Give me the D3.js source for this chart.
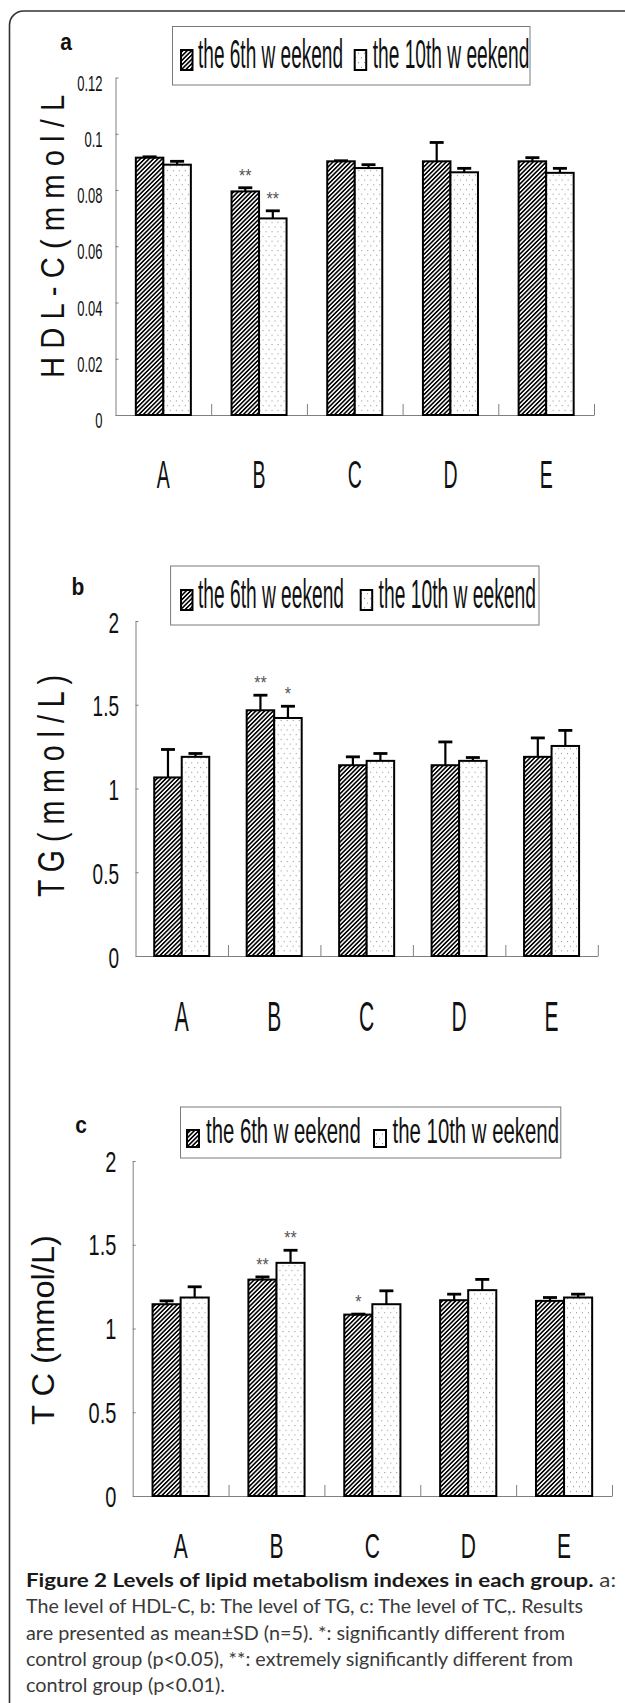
<!DOCTYPE html>
<html>
<head>
<meta charset="utf-8">
<script src="https://cdn.jsdelivr.net/npm/d3@7"></script>
<style>
  html, body { margin: 0; padding: 0; background: #fff; }
  svg { display: block; }
</style>
</head>
<body>
<script>
// ---- data ----
const groups = ["A", "B", "C", "D", "E"];
const seriesLabels = ["the 6th w eekend", "the 10th w eekend"];

// a: HDL-C (mmol/L)
const hdl6 = [0.0915, 0.0795, 0.0902, 0.0902, 0.0902];
const hdl6Sd = [0.0003, 0.0013, 0.0002, 0.0067, 0.0013];
const hdl10 = [0.0890, 0.0699, 0.0878, 0.0863, 0.0861];
const hdl10Sd = [0.0012, 0.0027, 0.0012, 0.0014, 0.0016];
const hdl6Sig = ["", "**", "", "", ""];
const hdl10Sig = ["", "**", "", "", ""];
const hdlTicks = [0, 0.02, 0.04, 0.06, 0.08, 0.1, 0.12];
const hdlTickLabels = ["0", "0.02", "0.04", "0.06", "0.08", "0.1", "0.12"];

// b: TG (mmol/L)
const tg6 = [1.066, 1.467, 1.139, 1.139, 1.189];
const tg6Sd = [0.167, 0.090, 0.050, 0.139, 0.113];
const tg10 = [1.189, 1.421, 1.165, 1.165, 1.254];
const tg10Sd = [0.020, 0.070, 0.044, 0.020, 0.093];
const tg6Sig = ["", "**", "", "", ""];
const tg10Sig = ["", "*", "", "", ""];

// c: TC (mmol/L)
const tc6 = [1.145, 1.292, 1.083, 1.169, 1.165];
const tc6Sd = [0.020, 0.016, 0.003, 0.036, 0.020];
const tc10 = [1.185, 1.392, 1.145, 1.229, 1.185];
const tc10Sd = [0.064, 0.075, 0.080, 0.064, 0.020];
const tc6Sig = ["", "**", "*", "", ""];
const tc10Sig = ["", "**", "", "", ""];

const mmolTicks = [0, 0.5, 1, 1.5, 2];
const mmolTickLabels = ["0", "0.5", "1", "1.5", "2"];

const captionBold = "Figure 2 Levels of lipid metabolism indexes in each group.";
const captionLines = [
  " a:",
  "The level of HDL-C, b: The level of TG, c: The level of TC,. Results",
  "are presented as mean\u00b1SD (n=5). *: significantly different from",
  "control group (p<0.05), **: extremely significantly different from",
  "control group (p<0.01).",
];

// ---- layout (positions / styles only) ----
const chartFont = "'Liberation Sans', Arial, sans-serif";
const W = 625, H = 1703;

const panels = [
  {
    tag: "a", title: "H D L - C ( m m o l / L )",
    v6: hdl6, sd6: hdl6Sd, v10: hdl10, sd10: hdl10Sd, sig6: hdl6Sig, sig10: hdl10Sig,
    ticks: hdlTicks, tickLabels: hdlTickLabels, yMax: 0.12,
    x0: 115.5, x1: 594, y0: 415, y1: 77.5, pad: 0.425,
    tagPos: [66, 50],
    legend: { box: [172.5, 26.5, 357.5, 58.5], sw: [181, 354.7], swY: 50, swW: 11.5, swH: 20,
              tx: [198, 372.7], tw: [145, 156.6], ty: 68, fs: 19, k: 2.15 },
    tick: { fs: 13, k: 1.7, pad: 13, dy: 12.5 },
    xlab: { fs: 19.5, k: 2.0, dy: 73 },
    ttl: { cx: 52, cy: 228, len: 300, fs: 33, clipTop: 92 },
  },
  {
    tag: "b", title: "T G ( m m o l / L )",
    v6: tg6, sd6: tg6Sd, v10: tg10, sd10: tg10Sd, sig6: tg6Sig, sig10: tg10Sig,
    ticks: mmolTicks, tickLabels: mmolTickLabels, yMax: 2,
    x0: 135.5, x1: 597.8, y0: 956, y1: 621, pad: 0.405,
    tagPos: [78, 595],
    legend: { box: [170.6, 566, 368.4, 59], sw: [181, 360.7], swY: 590, swW: 11.5, swH: 20,
              tx: [198, 378.6], tw: [146, 157.4], ty: 608, fs: 19, k: 2.15 },
    tick: { fs: 19, k: 1.6, pad: 16.5, dy: 11 },
    xlab: { fs: 21, k: 2.05, dy: 75 },
    ttl: { cx: 51, cy: 786, len: 222, fs: 36, clipTop: null },
  },
  {
    tag: "c", title: "T C (mmol/L)",
    v6: tc6, sd6: tc6Sd, v10: tc10, sd10: tc10Sd, sig6: tc6Sig, sig10: tc10Sig,
    ticks: mmolTicks, tickLabels: mmolTickLabels, yMax: 2,
    x0: 132.7, x1: 612, y0: 1496, y1: 1161, pad: 0.414,
    tagPos: [81, 1133],
    legend: { box: [180.5, 1107, 380.3, 51], sw: [187, 374], swY: 1130, swW: 12, swH: 17,
              tx: [206, 392.6], tw: [154.7, 166.4], ty: 1143, fs: 20.3, k: 1.69 },
    tick: { fs: 20, k: 1.45, pad: 16.3, dy: 10 },
    xlab: { fs: 21, k: 1.66, dy: 62 },
    ttl: { cx: 43, cy: 1330, len: 190, fs: 31, clipTop: null },
  },
];

const svg = d3.select("body").append("svg").attr("width", W).attr("height", H);
const defs = svg.append("defs");

// hatch "////"
const hatch = defs.append("pattern")
  .attr("id", "hatch").attr("patternUnits", "userSpaceOnUse")
  .attr("width", 3.1).attr("height", 3.1)
  .attr("patternTransform", "rotate(45)");
hatch.append("rect").attr("width", 3.1).attr("height", 3.1).attr("fill", "#fff");
hatch.append("line").attr("x1", 0.8).attr("y1", 0).attr("x2", 0.8).attr("y2", 3.1)
  .attr("stroke", "#000").attr("stroke-width", 1.6);

// sparse dots
const dots = defs.append("pattern")
  .attr("id", "dots").attr("patternUnits", "userSpaceOnUse")
  .attr("width", 6).attr("height", 9.4);
dots.append("rect").attr("width", 6).attr("height", 9.4).attr("fill", "#fff");
dots.append("rect").attr("x", 1).attr("y", 1).attr("width", 1).attr("height", 1).attr("fill", "#8a8a8a");
dots.append("rect").attr("x", 4).attr("y", 5.7).attr("width", 1).attr("height", 1).attr("fill", "#8a8a8a");

const fills = ["url(#hatch)", "url(#dots)"];

// outer frame
svg.append("rect")
  .attr("x", 9.5).attr("y", 11).attr("width", 700).attr("height", 1800).attr("rx", 14)
  .attr("fill", "none").attr("stroke", "#333").attr("stroke-width", 1.6);

panels.forEach((p, pi) => {
  const g = svg.append("g").attr("class", "panel-" + p.tag);

  const x = d3.scaleBand().domain(groups).range([p.x0, p.x1])
    .paddingInner(p.pad).paddingOuter(p.pad / 2);
  const xs = d3.scaleBand().domain([0, 1]).range([0, x.bandwidth()]);
  const y = d3.scaleLinear().domain([0, p.yMax]).range([p.y0, p.y1]);

  // y axis
  const yAxisG = g.append("g").attr("transform", `translate(${p.x0},0)`)
    .call(d3.axisLeft(y).tickValues(p.ticks).tickFormat((d, i) => p.tickLabels[i])
      .tickSizeInner(-3).tickSizeOuter(0))
    .attr("font-family", null).attr("font-size", null);
  yAxisG.select(".domain").attr("stroke", "#808080");
  yAxisG.selectAll(".tick line").attr("stroke", "#808080");
  yAxisG.selectAll(".tick text")
    .attr("x", null).attr("dy", null).attr("y", null)
    .attr("text-anchor", "end").attr("fill", "#111")
    .style("font-family", chartFont).style("font-size", p.tick.fs + "px")
    .attr("transform", `translate(${-p.tick.pad},${p.tick.dy}) scale(1,${p.tick.k})`);

  // x axis line with category boundary ticks
  const xb = d3.scaleLinear().domain([0, groups.length]).range([p.x0, p.x1]);
  const xLine = g.append("g").attr("transform", `translate(0,${p.y0})`)
    .call(d3.axisBottom(xb).tickValues(d3.range(1, groups.length + 1))
      .tickSizeInner(-11).tickSizeOuter(0).tickFormat(""));
  xLine.select(".domain").attr("stroke", "#808080");
  xLine.selectAll(".tick line").attr("stroke", "#808080");

  // category labels
  const xLab = g.append("g").attr("transform", `translate(0,${p.y0})`)
    .call(d3.axisBottom(x).tickSize(0))
    .attr("font-family", null).attr("font-size", null);
  xLab.select(".domain").remove();
  xLab.selectAll(".tick text")
    .attr("y", null).attr("dy", null)
    .attr("fill", "#111")
    .style("font-family", chartFont).style("font-size", p.xlab.fs + "px")
    .attr("transform", `translate(0,${p.xlab.dy}) scale(1,${p.xlab.k})`);

  // bars
  const rows = groups.map((grp, i) => ({
    grp,
    vals: [
      { s: 0, v: p.v6[i], sd: p.sd6[i], sig: p.sig6[i] },
      { s: 1, v: p.v10[i], sd: p.sd10[i], sig: p.sig10[i] },
    ],
  }));

  const grpG = g.append("g").selectAll("g").data(rows).join("g")
    .attr("transform", (d) => `translate(${x(d.grp)},0)`);

  grpG.selectAll("rect.bar").data((d) => d.vals).join("rect")
    .attr("class", "bar")
    .attr("x", (d) => xs(d.s))
    .attr("y", (d) => y(d.v))
    .attr("width", xs.bandwidth())
    .attr("height", (d) => y(0) - y(d.v))
    .attr("fill", (d) => fills[d.s])
    .attr("stroke", "#000").attr("stroke-width", 2);

  // error bars (plus side only)
  const eb = grpG.selectAll("g.err").data((d) => d.vals).join("g").attr("class", "err");
  eb.append("line")
    .attr("x1", (d) => xs(d.s) + xs.bandwidth() / 2)
    .attr("x2", (d) => xs(d.s) + xs.bandwidth() / 2)
    .attr("y1", (d) => y(d.v)).attr("y2", (d) => y(d.v + d.sd))
    .attr("stroke", "#000").attr("stroke-width", 2.2);
  eb.append("line")
    .attr("x1", (d) => xs(d.s) + xs.bandwidth() / 2 - 7)
    .attr("x2", (d) => xs(d.s) + xs.bandwidth() / 2 + 7)
    .attr("y1", (d) => y(d.v + d.sd)).attr("y2", (d) => y(d.v + d.sd))
    .attr("stroke", "#000").attr("stroke-width", 2.8);

  // significance marks
  grpG.selectAll("text.sig").data((d) => d.vals.filter((v) => v.sig)).join("text")
    .attr("class", "sig")
    .attr("text-anchor", "middle").attr("fill", "#555")
    .style("font-family", chartFont).style("font-size", "16px")
    .attr("transform", (d) => `translate(${xs(d.s) + xs.bandwidth() / 2},${y(d.v + d.sd) - 6}) scale(1,1.2)`)
    .text((d) => d.sig);

  // legend
  const L = p.legend;
  const lg = g.append("g");
  lg.append("rect").attr("x", L.box[0]).attr("y", L.box[1]).attr("width", L.box[2]).attr("height", L.box[3])
    .attr("fill", "#fff").attr("stroke", "#7a7a7a").attr("stroke-width", 1);
  seriesLabels.forEach((lab, si) => {
    lg.append("rect").attr("x", L.sw[si]).attr("y", L.swY).attr("width", L.swW).attr("height", L.swH)
      .attr("fill", fills[si]).attr("stroke", "#000").attr("stroke-width", 2);
    lg.append("text")
      .attr("transform", `translate(${L.tx[si]},${L.ty}) scale(1,${L.k})`)
      .attr("textLength", L.tw[si]).attr("lengthAdjust", "spacingAndGlyphs")
      .attr("fill", "#111")
      .style("font-family", chartFont).style("font-size", L.fs + "px")
      .text(lab);
  });

  // panel tag
  g.append("text")
    .attr("transform", `translate(${p.tagPos[0]},${p.tagPos[1]}) scale(1,1.15)`)
    .attr("text-anchor", "middle").attr("font-weight", "bold").attr("fill", "#111")
    .style("font-family", chartFont).style("font-size", "21px")
    .text(p.tag);

  // y title
  const T = p.ttl;
  const cap = T.fs * 0.716;
  const tt = g.append("text")
    .attr("transform", `translate(${T.cx + cap / 2},${T.cy}) rotate(-90)`)
    .attr("text-anchor", "middle").attr("fill", "#111")
    .attr("textLength", T.len).attr("lengthAdjust", "spacingAndGlyphs")
    .style("font-family", chartFont).style("font-size", T.fs + "px")
    .text(p.title);
  if (T.clipTop !== null) {
    defs.append("clipPath").attr("id", "ttlclip" + pi)
      .append("rect").attr("x", 0).attr("y", T.clipTop).attr("width", 110).attr("height", p.y0 - T.clipTop + 40);
    g.append("g").attr("clip-path", `url(#ttlclip${pi})`).node().appendChild(tt.node());
  }
});

// caption
const capFont = "Lato, 'Noto Sans', sans-serif";
const capX = 26;
const capBase = [1587, 1613, 1640, 1666, 1692];
const capLen = [590, 557, 539, 547, 199];
const cap = svg.append("g").style("font-family", capFont).style("font-size", "19px");
const l1 = cap.append("text").attr("x", capX).attr("y", capBase[0])
  .attr("textLength", capLen[0]).attr("lengthAdjust", "spacingAndGlyphs");
l1.append("tspan").attr("font-weight", "bold").attr("fill", "#1a1a1a").text(captionBold);
l1.append("tspan").attr("fill", "#3a3a3a").text(captionLines[0]);
captionLines.slice(1).forEach((line, i) => {
  cap.append("text").attr("x", capX).attr("y", capBase[i + 1])
    .attr("textLength", capLen[i + 1]).attr("lengthAdjust", "spacingAndGlyphs")
    .attr("fill", "#3a3a3a").text(line);
});
</script>
</body>
</html>
